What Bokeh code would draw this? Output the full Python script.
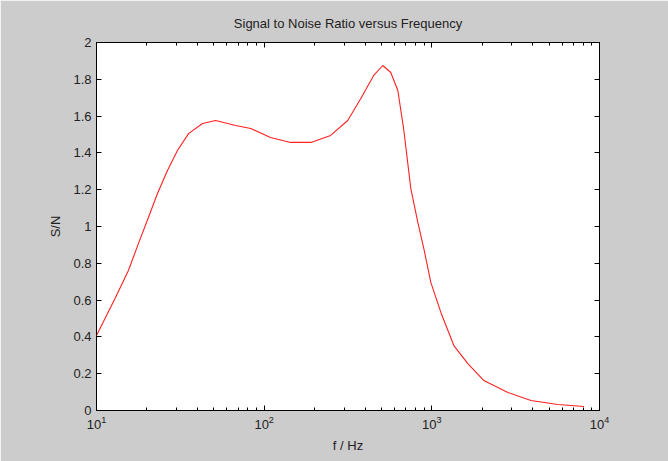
from bokeh.plotting import figure
from bokeh.models import (LogAxis, LinearAxis, FixedTicker, LogTicker,
                          PrintfTickFormatter, CustomJSTickFormatter, Range1d)
from bokeh.embed import file_html
from bokeh.resources import INLINE

# Signal-to-noise ratio sampled over frequency
freq_hz = [10, 12.98, 15.5, 17.8, 20.4, 23.1, 26.5, 30.4, 35.4, 42.9, 51.3, 67.6,
           83.1, 109, 144, 190, 249, 315, 377, 450, 510, 569, 627, 681, 749, 825,
           896, 986, 1132, 1353, 1640, 2044, 2842, 3900, 5650, 8080]
snr = [0.408, 0.614, 0.761, 0.908, 1.049, 1.179, 1.304, 1.413, 1.505, 1.560,
       1.576, 1.549, 1.533, 1.484, 1.457, 1.457, 1.495, 1.576, 1.696, 1.821,
       1.875, 1.837, 1.739, 1.522, 1.207, 1.022, 0.880, 0.696, 0.533, 0.353,
       0.255, 0.163, 0.098, 0.054, 0.033, 0.022]

y_ticks = [0, 0.2, 0.4, 0.6, 0.8, 1.0, 1.2, 1.4, 1.6, 1.8, 2.0]

FONT = "Liberation Sans"
TEXT = "#222222"
SIZE = "13px"

p = figure(width=668, height=461, x_axis_type="log",
           x_range=Range1d(10, 10000), y_range=Range1d(0, 2),
           output_backend="svg", toolbar_location=None,
           title="Signal to Noise Ratio versus Frequency",
           min_border_left=96, min_border_right=69,
           min_border_top=42, min_border_bottom=51)

p.background_fill_color = "white"
p.border_fill_color = "#cccccc"
p.outline_line_color = "black"
p.outline_line_width = 1
p.grid.visible = False

p.title.align = "center"
p.title.text_font = FONT
p.title.text_font_size = SIZE
p.title.text_font_style = "normal"
p.title.text_color = TEXT
p.title.standoff = 24

p.line(freq_hz, snr, line_color="#ff2020", line_width=1.1)


def style_axis(ax, show_labels):
    ax.axis_line_color = None
    ax.major_tick_in = 5
    ax.major_tick_out = 0
    ax.minor_tick_in = 3
    ax.minor_tick_out = 0
    ax.major_tick_line_color = "black"
    ax.minor_tick_line_color = "black"
    ax.major_label_text_font = FONT
    ax.major_label_text_color = TEXT
    ax.major_label_text_font_size = SIZE
    ax.major_label_standoff = 5 if show_labels else 0
    if not show_labels:
        ax.formatter = CustomJSTickFormatter(code="return '';")
    ax.axis_label_text_font = FONT
    ax.axis_label_text_font_size = SIZE
    ax.axis_label_text_font_style = "normal"
    ax.axis_label_text_color = TEXT


xa = p.xaxis[0]
xa.ticker = LogTicker(num_minor_ticks=10)
xa.axis_label = "f / Hz"
xa.axis_label_standoff = 6
style_axis(xa, True)

ya = p.yaxis[0]
ya.ticker = FixedTicker(ticks=y_ticks)
ya.formatter = PrintfTickFormatter(format="%g")
ya.axis_label = "S/N"
ya.axis_label_standoff = 7
style_axis(ya, True)

top = LogAxis(ticker=LogTicker(num_minor_ticks=10))
style_axis(top, False)
p.add_layout(top, "above")

right = LinearAxis(ticker=FixedTicker(ticks=y_ticks))
style_axis(right, False)
p.add_layout(right, "right")

open("out.html", "w").write(file_html(p, INLINE))
